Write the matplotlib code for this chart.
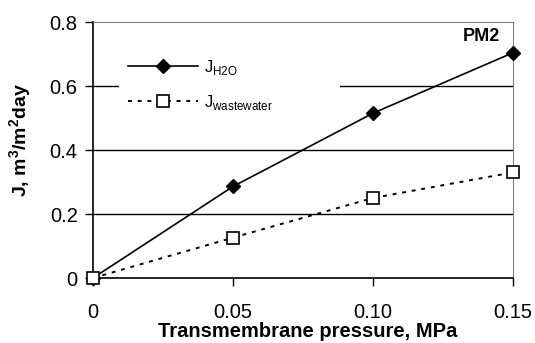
import numpy as np
import matplotlib
matplotlib.use("Agg")
import matplotlib.pyplot as plt
from matplotlib.patches import Rectangle

plt.rcParams["font.family"] = ["Liberation Sans", "DejaVu Sans"]
plt.rcParams["mathtext.fontset"] = "custom"
plt.rcParams["mathtext.rm"] = "Liberation Sans"
plt.rcParams["mathtext.bf"] = "Liberation Sans:bold"

# data
pressure = [0, 0.05, 0.10, 0.15]
j_h2o = [0, 0.286, 0.515, 0.704]
j_wastewater = [0, 0.126, 0.250, 0.330]
xtick_labels = ["0", "0.05", "0.10", "0.15"]
ytick_values = [0, 0.2, 0.4, 0.6, 0.8]
ytick_labels = ["0", "0.2", "0.4", "0.6", "0.8"]

fig = plt.figure(figsize=(5.35, 3.43), dpi=100)
ax = fig.add_axes([93 / 535, 1 - 278 / 343, 420 / 535, 256 / 343])

ax.set_xlim(0, 0.15)
ax.set_ylim(0, 0.8)

for y in ytick_values[1:-1]:
    ax.axhline(y, color="black", lw=1.0, zorder=0.5)

# white area behind legend, hides the gridline like the original
ax.add_patch(Rectangle((26 / 420, 0.62), 221 / 420, 0.29, transform=ax.transAxes,
                       fc="white", ec="none", zorder=1))

ax.plot(pressure, j_h2o, color="black", lw=1.2, marker="D", ms=7.5,
        mfc="black", mec="black", label=r"J$_{\mathrm{H2O}}$", zorder=3, clip_on=False)
ax.plot(pressure, j_wastewater, color="black", lw=1.4, ls=(0, (2, 3)), marker="s", ms=9,
        mfc="white", mec="black", mew=1.2, label=r"J$_{\mathrm{wastewater}}$", zorder=3,
        clip_on=False)

leg = ax.legend(loc="upper left", bbox_to_anchor=(0.055, 0.905), frameon=False,
                fontsize=12, handlelength=4.2, handletextpad=0.35, labelspacing=0.95,
                borderpad=0.2)

ax.set_xticks(pressure)
ax.set_xticklabels(xtick_labels)
ax.set_yticks(ytick_values)
ax.set_yticklabels(ytick_labels)
ax.tick_params(axis="both", direction="out", length=6, width=1, labelsize=14.5,
               color="black")
ax.tick_params(axis="x", pad=12)
ax.tick_params(axis="y", pad=5)

ax.spines["left"].set_color("black")
ax.spines["bottom"].set_color("black")
ax.spines["left"].set_linewidth(1.2)
ax.spines["bottom"].set_linewidth(1.2)
ax.spines["top"].set_color("#808080")
ax.spines["right"].set_color("#808080")

ax.set_xlabel("Transmembrane pressure, MPa", fontsize=14.5, fontweight="bold",
              va="baseline")
ax.xaxis.set_label_coords(0.511, -0.232)
ax.set_ylabel(r"J, m$^\mathbf{3}$/m$^\mathbf{2}$day", fontsize=14, fontweight="bold")
ax.yaxis.set_label_coords(-0.14, 0.54)

ax.text(0.97, 0.975, "PM2", transform=ax.transAxes, ha="right", va="top",
        fontsize=13, fontweight="bold")

fig.savefig("out.png", dpi=100)
